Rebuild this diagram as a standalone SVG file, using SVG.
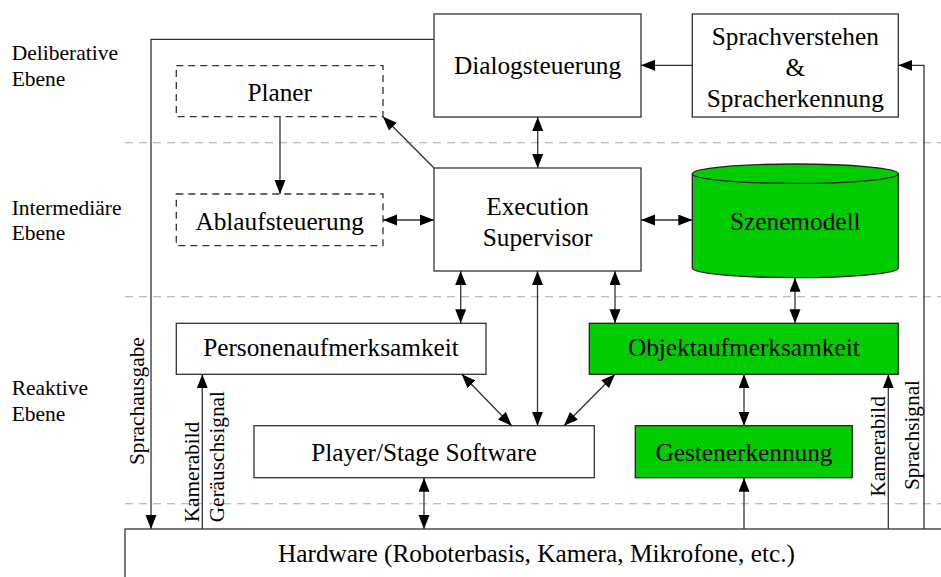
<svg xmlns="http://www.w3.org/2000/svg" width="941" height="577" viewBox="0 0 941 577">
  <defs>
    <marker id="arrow" markerUnits="userSpaceOnUse" markerWidth="15" markerHeight="12" refX="14" refY="5.5" orient="auto-start-reverse">
      <path d="M0,0 L14,5.5 L0,11 Z" fill="#000"/>
    </marker>
    <style>
      .box { fill: #fff; stroke: #333; stroke-width: 1.3; }
      .dash { fill: #fff; stroke: #333; stroke-width: 1.3; stroke-dasharray: 7 5; }
      .green { fill: #00cc00; stroke: #222; stroke-width: 1.3; }
      .sep { stroke: #aaa; stroke-width: 1.1; stroke-dasharray: 8 6; fill: none; }
      .ln { stroke: #333; stroke-width: 1.3; fill: none; }
      .one { marker-end: url(#arrow); }
      .two { marker-start: url(#arrow); marker-end: url(#arrow); }
      text { font-family: "Liberation Serif", "Times New Roman", serif; fill: #000; }
      .lbl { font-size: 25.3px; text-anchor: middle; }
      .side { font-size: 21.5px; }
      .rot { font-size: 21.3px; }
    </style>
  </defs>

  <!-- layer separators -->
  <g id="separators">
    <line class="sep" x1="125" y1="142.7" x2="941" y2="142.7"/>
    <line class="sep" x1="125" y1="296.7" x2="941" y2="296.7"/>
    <line class="sep" x1="125" y1="503.7" x2="941" y2="503.7"/>
  </g>

  <!-- layer names -->
  <g id="layer-labels" class="side">
    <text class="side" x="11.7" y="60">Deliberative</text>
    <text class="side" x="11.7" y="85.7">Ebene</text>
    <text class="side" x="11.7" y="215">Intermediäre</text>
    <text class="side" x="11.7" y="240">Ebene</text>
    <text class="side" x="11.7" y="395">Reaktive</text>
    <text class="side" x="11.7" y="420.7">Ebene</text>
  </g>

  <g id="dialogsteuerung">
    <rect class="box" x="434" y="14" width="207" height="103"/>
    <text class="lbl" x="537.5" y="73.5">Dialogsteuerung</text>
  </g>

  <g id="sprachverstehen">
    <rect class="box" x="692.3" y="14" width="206" height="103"/>
    <text class="lbl" x="795.3" y="45">Sprachverstehen</text>
    <text class="lbl" x="795.3" y="76">&amp;</text>
    <text class="lbl" x="795.3" y="106.7">Spracherkennung</text>
  </g>

  <g id="planer">
    <rect class="dash" x="176.3" y="65.7" width="206.7" height="51"/>
    <text class="lbl" x="279.7" y="101">Planer</text>
  </g>

  <g id="ablaufsteuerung">
    <rect class="dash" x="176.3" y="194" width="206.7" height="51.7"/>
    <text class="lbl" x="279.7" y="230">Ablaufsteuerung</text>
  </g>

  <g id="execution-supervisor">
    <rect class="box" x="434" y="168" width="207" height="103"/>
    <text class="lbl" x="537.5" y="215">Execution</text>
    <text class="lbl" x="537.5" y="245.7">Supervisor</text>
  </g>

  <g id="szenemodell">
    <path class="green" d="M692.3,173.7 A103,9.7 0 0 1 898.3,173.7 L898.3,268 A103,9.7 0 0 1 692.3,268 Z"/>
    <path class="green" d="M692.3,173.7 A103,9.7 0 0 0 898.3,173.7" fill="none"/>
    <text class="lbl" x="795.3" y="230">Szenemodell</text>
  </g>

  <g id="personenaufmerksamkeit">
    <rect class="box" x="176.3" y="323.3" width="309.7" height="51"/>
    <text class="lbl" x="331" y="355.7">Personenaufmerksamkeit</text>
  </g>

  <g id="objektaufmerksamkeit">
    <rect class="green" x="589.3" y="323.3" width="309" height="51"/>
    <text class="lbl" x="743.8" y="355.7">Objektaufmerksamkeit</text>
  </g>

  <g id="player-stage">
    <rect class="box" x="254" y="425.7" width="340.3" height="52"/>
    <text class="lbl" x="424" y="460.7">Player/Stage Software</text>
  </g>

  <g id="gestenerkennung">
    <rect class="green" x="635.3" y="425.7" width="217" height="52"/>
    <text class="lbl" x="744" y="460.7">Gestenerkennung</text>
  </g>

  <g id="hardware">
    <rect class="box" x="125" y="529" width="830" height="60"/>
    <text class="lbl" x="536.5" y="561.7">Hardware (Roboterbasis, Kamera, Mikrofone, etc.)</text>
  </g>

  <!-- connectors -->
  <g id="connectors">
    <path class="ln one" d="M692.3,65.3 H641"/>
    <path class="ln one" d="M924,529 V65.3 H898.3"/>
    <path class="ln one" d="M434,39.3 H151 V529"/>
    <path class="ln one" d="M280,116.7 V194"/>
    <path class="ln one" d="M434,168 L383,116.7"/>
    <path class="ln two" d="M537.7,117 V168"/>
    <path class="ln two" d="M383,220 H434"/>
    <path class="ln two" d="M641,220 H692.3"/>
    <path class="ln two" d="M460.7,271 V323.3"/>
    <path class="ln two" d="M537.5,271 V425.7"/>
    <path class="ln two" d="M615,271 V323.3"/>
    <path class="ln two" d="M795,277.7 V323.3"/>
    <path class="ln two" d="M461.7,374.3 L511.7,425.7"/>
    <path class="ln two" d="M615,374.3 L564,425.7"/>
    <path class="ln two" d="M744,374.3 V425.7"/>
    <path class="ln two" d="M424,477.7 V529"/>
    <path class="ln one" d="M744,529 V477.7"/>
    <path class="ln one" d="M202.3,529 V374.3"/>
    <path class="ln one" d="M888.3,529 V374.3"/>
  </g>

  <!-- signal names along the vertical lines -->
  <g id="signal-labels">
    <text class="rot" transform="translate(144,465) rotate(-90)">Sprachausgabe</text>
    <text class="rot" transform="translate(199,522.3) rotate(-90)">Kamerabild</text>
    <text class="rot" transform="translate(224,522.3) rotate(-90)">Geräuschsignal</text>
    <text class="rot" transform="translate(885,496.7) rotate(-90)">Kamerabild</text>
    <text class="rot" transform="translate(919.3,490) rotate(-90)">Sprachsignal</text>
  </g>
</svg>
